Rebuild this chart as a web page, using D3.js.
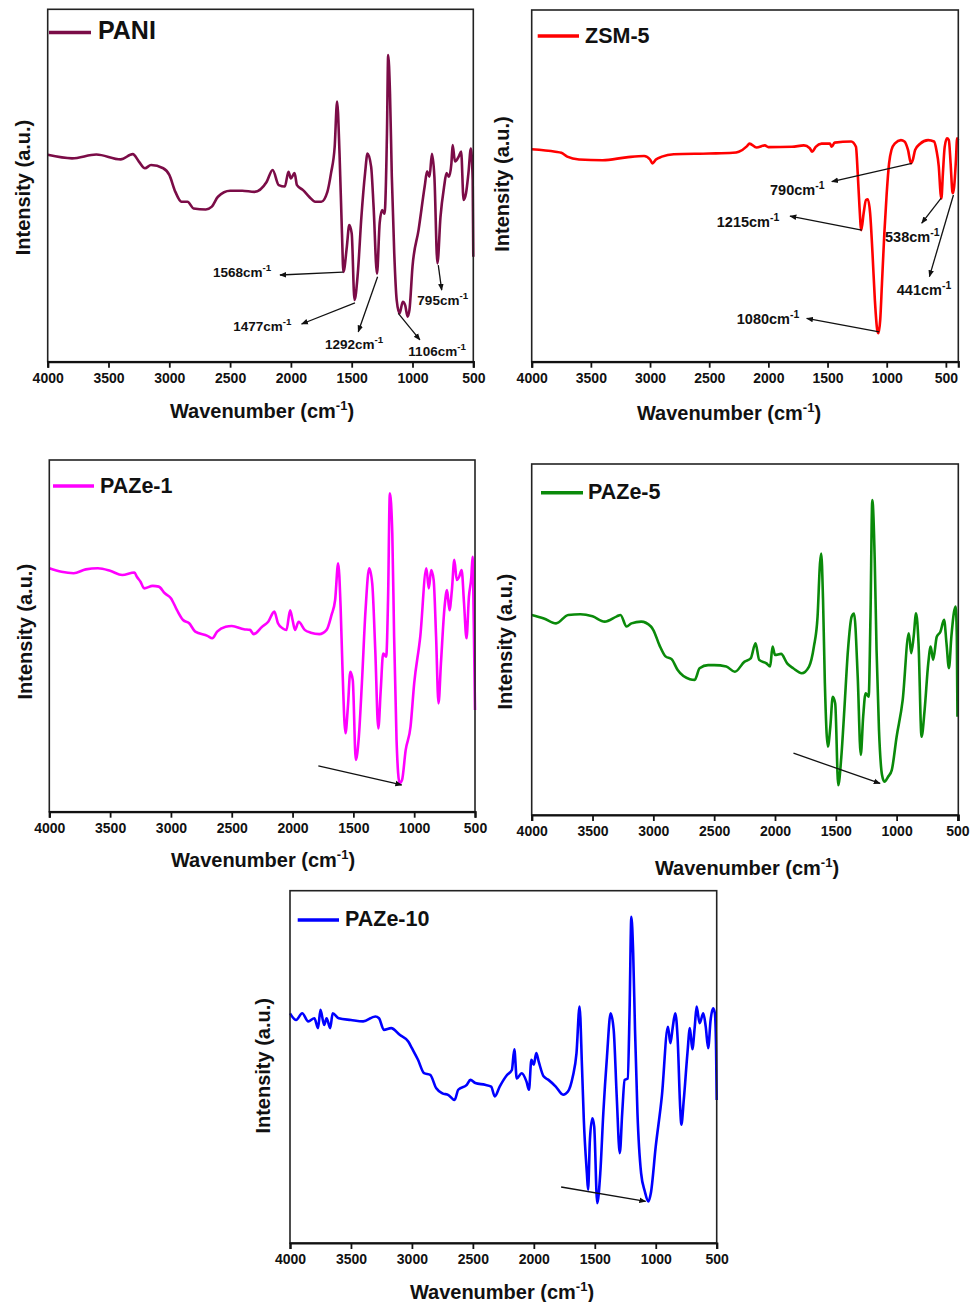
<!DOCTYPE html>
<html>
<head>
<meta charset="utf-8">
<script src="https://cdn.jsdelivr.net/npm/d3@7/dist/d3.min.js"></script>
<style>
  html, body { margin: 0; padding: 0; background: #fff; }
  svg { display: block; }
  text { font-family: "Liberation Sans", Arial, sans-serif; font-weight: bold; fill: #111; }
</style>
</head>
<body>
<svg id="chart" width="979" height="1302"></svg>
<script>
// ---------------- DATA ----------------
const seriesNames = ["PANI", "ZSM-5", "PAZe-1", "PAZe-5", "PAZe-10"];
const seriesColors = ["#7b0c47", "#ff0000", "#ff00ff", "#0a8a0a", "#0000ff"];
const xTickValues = [4000, 3500, 3000, 2500, 2000, 1500, 1000, 500];

// PANI
const paniWn = [4000,3800,3600,3400,3300,3250,3200,3150,3050,3000,2950,2900,2850,2800,2700,2650,2600,2500,2400,2300,2200,2150,2100,2050,2020,2000,1970,1950,1900,1850,1800,1750,1700,1670,1640,1620,1600,1580,1568,1540,1520,1500,1477,1450,1420,1390,1370,1340,1320,1292,1270,1250,1230,1210,1200,1185,1170,1150,1130,1106,1080,1060,1040,1025,1000,950,900,880,860,840,820,795,770,740,720,700,680,670,650,620,600,580,560,540,520,505,500];
const paniI  = [58.7,57.7,58.8,57.4,58.9,56.8,54.9,55.8,54.9,53,48.2,45.4,45.4,43.5,43.2,44,46.8,48.5,48.5,48.2,51,54.4,50.1,49.7,53.9,52,53.5,50.1,48.7,46.8,45.4,45.4,48.2,53.5,61,73.8,59,36.4,25.5,32.6,38.8,36.4,17.5,25,41.2,53.5,59.1,55.3,44,25,39.3,43,42,64.8,87,76,52.5,30.7,17.5,13.7,17,16,12.8,14.7,27,37.4,49.7,54,52.5,59,52.5,27.9,41,49.7,53.5,52.5,56.3,61.5,56.8,58.2,59.6,45.9,47.8,53.5,60.5,51.6,29.8];

// ZSM-5
const zsmWn = [4000,3800,3750,3700,3600,3400,3200,3050,3000,2980,2950,2900,2800,2500,2300,2250,2180,2160,2100,2030,2000,1800,1700,1650,1630,1600,1550,1480,1465,1440,1300,1260,1245,1230,1215,1195,1175,1160,1140,1120,1100,1080,1070,1055,1040,1020,1000,980,960,930,880,850,820,795,780,760,720,650,600,580,560,545,538,525,510,490,475,460,445,441,430,415,405,395];
const zsmI  = [60.4,59.7,59.4,58.3,57.5,57.3,58.1,58.5,57.5,56.4,57.5,58.3,59,59.2,59.4,59.7,61.3,62,60.9,61.5,61,61.1,61.5,60.7,59.7,61.1,62,62,61.1,62.3,62.6,61.1,53.6,44,37.4,42.2,46,46.2,42.2,30.8,17.5,9,8.1,11.8,22.3,36.5,47.9,56.4,60.2,62.1,63,62.6,60.2,56.4,57.3,60.2,61.9,63,62.6,60.2,55.5,47.9,46.4,53.6,61.1,63.5,63,56.4,48.3,47.9,49.8,57.3,63.5,63];

// PAZe-1
const paze1Wn = [4000,3900,3800,3700,3600,3500,3400,3300,3280,3250,3220,3150,3100,3050,3000,2950,2900,2850,2800,2700,2660,2620,2550,2500,2400,2350,2320,2250,2200,2150,2120,2080,2050,2020,2000,1980,1950,1900,1850,1780,1720,1680,1650,1625,1605,1590,1565,1545,1525,1505,1480,1455,1430,1400,1370,1345,1320,1295,1275,1255,1230,1215,1200,1180,1165,1145,1120,1100,1070,1030,1000,950,900,880,860,840,820,800,780,750,730,710,690,670,650,630,610,590,570,550,530,520,510,500];
const paze1I  = [69.2,68.2,67.8,68.9,69.2,68.5,67.3,68,66.8,65.4,63.5,64.2,64,62.1,60.7,57.3,54.5,53.6,51.2,50,49.3,51.2,52.6,52.8,51.9,51.7,50.5,52.6,54,56.9,53.6,52.1,51.7,57.3,54.5,51.7,54,51.7,50.9,50.5,51.7,55.9,60.2,70.6,58.3,41.2,22.3,29.9,39.8,37.4,14.7,21.3,36.5,57.3,69.2,64.9,45.9,23.7,34.6,45,44.1,60.2,90.5,79.1,49.8,20.4,8.1,9,17.5,24.2,36.5,49.8,69.2,63.5,68.7,65.9,49.8,30.8,42.2,58.3,63,57.3,63,71.6,65.9,66.8,68.7,59.2,49.3,61.1,66.8,72.5,53.6,28.9];

// PAZe-5
const paze5Wn = [4000,3900,3800,3700,3600,3500,3400,3300,3270,3220,3180,3100,3020,3000,2950,2900,2850,2800,2700,2660,2620,2550,2500,2400,2330,2250,2200,2160,2130,2070,2040,2020,2000,1950,1900,1850,1780,1720,1680,1650,1630,1620,1605,1590,1565,1545,1525,1505,1480,1455,1430,1400,1370,1350,1320,1295,1275,1255,1230,1215,1200,1180,1165,1145,1120,1100,1070,1040,1000,950,900,880,860,840,820,795,770,740,720,700,670,640,610,590,570,550,530,515,505,500];
const paze5I  = [57,56,54.6,57,57.2,56.6,55.1,56.6,57,53.7,54.6,55.1,53.7,52.7,48.4,45.2,44.4,41.3,38.7,38.5,41.8,42.7,42.7,42.3,40.8,43.7,44.6,48.9,44.2,43.2,42.3,48,45.6,45.9,43.2,41.8,40.4,42.3,48,56.5,71.7,74.5,61.3,37.6,19.5,25.2,33.7,31.8,8.5,16.4,29.9,47,56.5,57.4,39.5,17.1,28,34.7,33.7,56.5,89.7,72.6,47,24.2,11.4,9.5,10.9,12.8,22.3,32.8,51.8,46.1,50.8,57.5,48.9,22.3,29.9,43.2,48,44.2,50.8,52.2,55.6,48.9,41.8,50.8,57.5,59.4,50.8,28];

// PAZe-10
const paze10Wn = [4000,3950,3900,3850,3800,3770,3750,3720,3700,3670,3650,3600,3500,3400,3300,3270,3230,3170,3100,3030,3000,2950,2900,2850,2800,2750,2700,2650,2620,2550,2520,2480,2400,2350,2320,2280,2220,2180,2160,2140,2100,2060,2040,2020,2000,1980,1960,1920,1880,1820,1760,1720,1680,1650,1625,1605,1590,1565,1555,1540,1520,1505,1480,1455,1430,1400,1370,1345,1320,1295,1275,1255,1230,1215,1200,1185,1170,1150,1120,1090,1060,1040,1000,950,900,880,860,840,820,800,790,770,740,720,700,680,665,640,610,590,570,550,530,515,505,500];
const paze10I  = [65.2,63.3,65.2,62.9,63.8,61,66.2,61.9,63.8,61,65.2,63.8,63.3,62.9,64.3,63.8,60.5,61,59.1,57.2,55.3,52,48.2,47.7,43.9,42.5,42,40.6,43.5,44.9,46.3,45.4,44.9,44.4,41.6,44.4,47.7,49.1,55,46.7,48.2,45.8,43.5,52,50.6,53.9,51.5,47.3,46.3,44.4,42.1,43,47.3,53.9,67.1,50.1,35,19.9,15.1,29.3,35.4,33.1,11.3,19.8,36.9,52.9,65.2,60.5,41.6,25.5,36.9,46.3,46.7,65.2,92.6,82.2,60.5,36.9,19.8,14.7,11.8,14.2,27.4,41.6,61.4,56.7,61.4,65.2,57.7,38.8,33.6,40.6,53.9,61,55,61.4,67.1,62.4,65.2,61.4,55.3,63.3,66.6,65.2,54.8,40.6];

const seriesWn = [paniWn, zsmWn, paze1Wn, paze5Wn, paze10Wn];
const seriesI  = [paniI, zsmI, paze1I, paze5I, paze10I];

// Peak annotations (label, arrow tail [wn,I], arrow head [wn,I], text anchor [wn,I])
const paniPeaks = [
  {label: "1568", from: [1572, 25.4], to: [2090, 24.6], at: [2641, 24.0]},
  {label: "1477", from: [1473, 16.7], to: [1912, 10.7], at: [2474, 8.7]},
  {label: "1292", from: [1287, 24.1], to: [1446, 8.5],  at: [1720, 3.5]},
  {label: "1106", from: [1117, 13.7], to: [939, 6.2],   at: [1034, 1.6]},
  {label: "795",  from: [788, 27.4],  to: [760, 20.3],  at: [960, 16.1]}
];
const zsmPeaks = [
  {label: "790",  from: [788, 56.4],  to: [1464, 51.2], at: [1986, 47.4]},
  {label: "1215", from: [1211, 37.4], to: [1817, 41.4], at: [2436, 38.4]},
  {label: "538",  from: [540, 46.5],  to: [704, 39.4],  at: [1014, 34.1]},
  {label: "441",  from: [436, 47.4],  to: [639, 24.2],  at: [915, 19.0]},
  {label: "1080", from: [1064, 8.5],  to: [1676, 12.3], at: [2267, 10.6]}
];
const paze1Peaks  = [{label: "", from: [1788, 13.0], to: [1103, 7.6]}];
const paze5Peaks  = [{label: "", from: [1848, 17.6], to: [1136, 9.0]}];
const paze10Peaks = [{label: "", from: [1776, 15.9], to: [1083, 11.8]}];
const seriesPeaks = [paniPeaks, zsmPeaks, paze1Peaks, paze5Peaks, paze10Peaks];

// ---------------- LAYOUT ----------------
const layout = [
  {l: 47.7, r: 473.3, t: 9.3,   b: 361.7, dom: [4000, 500], leg: {x1: 49, x2: 91, y: 32.5, tx: 98, ty: 38.5, fs: 25}, xt: {x: 262, y: 418}, yt: {x: 23, y: 187.5}, afs: 13.5},
  {l: 531.7, r: 958.3, t: 10,   b: 361.7, dom: [4000, 395], leg: {x1: 537.7, x2: 579, y: 36, tx: 585, ty: 43.3, fs: 21.5}, xt: {x: 729, y: 420}, yt: {x: 502, y: 184}, afs: 14.5},
  {l: 49.3, r: 475,  t: 460,    b: 811.7, dom: [4000, 500], leg: {x1: 53, x2: 94, y: 486, tx: 100, ty: 493.3, fs: 21.5}, xt: {x: 263, y: 867}, yt: {x: 25, y: 631.7}},
  {l: 531.7, r: 958.3, t: 464,  b: 815,   dom: [4000, 493], leg: {x1: 541, x2: 583, y: 492.7, tx: 588, ty: 499.3, fs: 21.5}, xt: {x: 747, y: 875}, yt: {x: 505, y: 641.7}},
  {l: 290,  r: 716.7, t: 890.7, b: 1243,  dom: [4000, 500], leg: {x1: 297.7, x2: 339, y: 920, tx: 345, ty: 925.7, fs: 21.5}, xt: {x: 502, y: 1299}, yt: {x: 263, y: 1065.8}}
];

// ---------------- DRAW ----------------
const svg = d3.select("#chart");
const defs = svg.append("defs");
defs.append("marker")
  .attr("id", "arrow")
  .attr("viewBox", "0 0 10 10")
  .attr("refX", 9).attr("refY", 5)
  .attr("markerWidth", 7).attr("markerHeight", 7)
  .attr("markerUnits", "userSpaceOnUse")
  .attr("orient", "auto")
  .append("path").attr("d", "M0,1 L10,5 L0,9 Z").attr("fill", "#111");

seriesNames.forEach((name, i) => {
  const L = layout[i];
  const x = d3.scaleLinear().domain(L.dom).range([L.l, L.r]);
  const y = d3.scaleLinear().domain([0, 100]).range([L.b, L.t]);
  const g = svg.append("g");

  // spectrum
  const pts = seriesWn[i].map((w, k) => [w, seriesI[i][k]]);
  g.append("path")
    .datum(pts)
    .attr("fill", "none")
    .attr("stroke", seriesColors[i])
    .attr("stroke-width", 2.6)
    .attr("stroke-linejoin", "round")
    .attr("d", d3.line().curve(d3.curveMonotoneX).x(d => x(d[0])).y(d => y(d[1])));

  // frame
  g.append("rect")
    .attr("x", L.l).attr("y", L.t)
    .attr("width", L.r - L.l).attr("height", L.b - L.t)
    .attr("fill", "none").attr("stroke", "#222").attr("stroke-width", 1.6);

  // x axis
  const ax = g.append("g")
    .attr("transform", `translate(0,${L.b})`)
    .call(d3.axisBottom(x).tickValues(xTickValues).tickSizeOuter(0).tickSize(6).tickPadding(5).tickFormat(d3.format("d")));
  ax.select(".domain").attr("stroke", "#111").attr("stroke-width", 2.2);
  ax.selectAll(".tick line").attr("stroke", "#111").attr("stroke-width", 1.8);
  ax.selectAll(".tick text")
    .attr("fill", "#111")
    .style("font-family", "'Liberation Sans', Arial, sans-serif")
    .style("font-weight", "bold")
    .style("font-size", "14px");

  // x title
  const xt = g.append("text")
    .attr("x", L.xt.x).attr("y", L.xt.y)
    .attr("text-anchor", "middle")
    .style("font-size", "20px");
  xt.append("tspan").text("Wavenumber (cm");
  xt.append("tspan").attr("dy", -8).style("font-size", "13px").text("-1");
  xt.append("tspan").attr("dy", 8).text(")");

  // y title
  g.append("text")
    .attr("transform", `translate(${L.yt.x},${L.yt.y}) rotate(-90)`)
    .attr("text-anchor", "middle")
    .attr("dy", "0.35em")
    .style("font-size", "20px")
    .text("Intensity (a.u.)");

  // legend
  g.append("line")
    .attr("x1", L.leg.x1).attr("x2", L.leg.x2)
    .attr("y1", L.leg.y).attr("y2", L.leg.y)
    .attr("stroke", seriesColors[i]).attr("stroke-width", 3.5);
  g.append("text")
    .attr("x", L.leg.tx).attr("y", L.leg.ty)
    .style("font-size", L.leg.fs + "px")
    .text(name);

  // annotations
  seriesPeaks[i].forEach(p => {
    g.append("line")
      .attr("x1", x(p.from[0])).attr("y1", y(p.from[1]))
      .attr("x2", x(p.to[0])).attr("y2", y(p.to[1]))
      .attr("stroke", "#111").attr("stroke-width", 1.3)
      .attr("marker-end", "url(#arrow)");
    if (p.label) {
      const t = g.append("text")
        .attr("x", x(p.at[0])).attr("y", y(p.at[1]))
        .style("font-size", L.afs + "px");
      t.append("tspan").text(p.label + "cm");
      t.append("tspan").attr("dy", -6).style("font-size", (L.afs * 0.72) + "px").text("-1");
    }
  });
});
</script>
</body>
</html>
